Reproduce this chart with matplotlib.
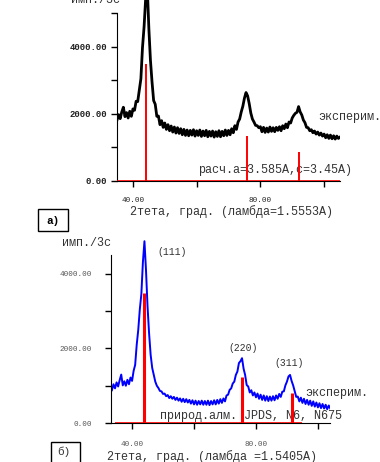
import numpy as np
import matplotlib.pyplot as plt
from matplotlib.patches import Rectangle

plt.rcParams['font.family'] = ['Liberation Mono', 'DejaVu Sans Mono']

# ---------------- panel a) : experiment (black) + calculated sticks (red)
tth_a_start, tth_a_step = 35.0, 0.5
counts_a = [
    1820, 1980, 1860, 2060, 2200, 1920, 2040, 1880, 2080, 1930,
    2150, 2110, 2380, 2370, 2720, 3050, 3980, 4600, 5450, 5800,
    4550, 3600, 2950, 2400, 2290, 1930, 1940, 1680, 1800, 1600,
    1730, 1540, 1680, 1500, 1640, 1460, 1610, 1430, 1590, 1420,
    1560, 1380, 1540, 1360, 1520, 1350, 1510, 1370, 1530, 1340,
    1500, 1360, 1520, 1330, 1490, 1350, 1510, 1320, 1480, 1340,
    1490, 1310, 1470, 1330, 1500, 1320, 1480, 1350, 1520, 1360,
    1510, 1380, 1560, 1440, 1650, 1540, 1760, 1850, 2060, 2230,
    2470, 2640, 2540, 2310, 2030, 1850, 1760, 1660, 1650, 1590,
    1620, 1470, 1600, 1450, 1580, 1460, 1610, 1480, 1590, 1470,
    1600, 1510, 1620, 1500, 1650, 1560, 1700, 1590, 1760, 1730,
    1880, 1960, 2020, 2050, 2220, 2060, 1970, 1820, 1740, 1600,
    1590, 1500, 1530, 1440, 1490, 1400, 1460, 1370, 1430, 1340,
    1400, 1290, 1380, 1270, 1370, 1260, 1350, 1250, 1340, 1270,
    1310,
]
calc_pos_a = [44.1, 75.8, 92.1]
calc_int_a = [3490, 1340, 870]

# ---------------- panel b) : experiment (blue) + JPDS sticks (red)
tth_b_start, tth_b_step = 33.5, 0.5
counts_b = [
    880, 1040, 930, 1090, 980, 1150, 1300, 1010, 1120, 1000,
    1160, 1040, 1220, 1130, 1400, 1560, 2100, 2500, 3050, 3460,
    4320, 4880, 4100, 3120, 2400, 1830, 1480, 1300, 1110, 1000,
    940, 860, 850, 780, 790, 720, 750, 670, 720, 650,
    700, 620, 680, 600, 660, 570, 650, 560, 640, 550,
    620, 520, 610, 500, 600, 490, 590, 500, 600, 490,
    590, 490, 600, 480, 590, 500, 610, 500, 620, 520,
    640, 540, 660, 580, 740, 760, 890, 930, 1060, 1110,
    1290, 1380, 1610, 1660, 1740, 1460, 1290, 1020, 980, 820,
    880, 740, 820, 690, 790, 650, 760, 620, 740, 600,
    720, 590, 710, 600, 720, 610, 740, 650, 780, 700,
    840, 850, 1010, 1110, 1250, 1290, 1130, 1010, 850, 700,
    710, 580, 680, 540, 650, 510, 620, 490, 600, 460,
    580, 440, 550, 420, 530, 400, 510, 390, 490, 370,
    470, 390,
]
ref_pos_b = [43.7, 75.4, 91.7]
ref_int_b = [3500, 1240, 800]
hkl_b = ['(111)', '(220)', '(311)']
hkl_xy_b = [(48.1, 4590), (71.0, 2010), (85.8, 1610)]

W, H = 380, 462


def fx(px):
    return px / W


def fy(py):
    return 1 - py / H


def style_axes(ax, ytop, ylab_fs, xlab_fs, ypad, xpad, lab_color):
    for s in ['top', 'right']:
        ax.spines[s].set_visible(False)
    ax.spines['left'].set_bounds(0, ytop)
    ax.set_xticks([40, 60, 80, 100])
    ax.set_xticklabels(['40.00', '', '80.00', ''])
    ax.set_yticks([0, 2000, 4000])
    ax.set_yticklabels(['%.2f' % v for v in [0, 2000, 4000]])
    ax.set_yticks([v for v in [1000, 3000, 5000] if v <= ytop], minor=True)
    ax.tick_params(axis='y', which='both', length=4, width=1, direction='out')
    ax.tick_params(axis='y', which='major', labelsize=ylab_fs, pad=ypad,
                   labelcolor=lab_color)
    ax.tick_params(axis='x', length=4, width=1, direction='out',
                   labelsize=xlab_fs, pad=xpad, labelcolor=lab_color)
    ax.patch.set_alpha(0)


fig = plt.figure(figsize=(3.8, 4.62), dpi=100)

# ---- a)
tth_a = tth_a_start + tth_a_step * np.arange(len(counts_a))
axa = fig.add_axes([fx(117), fy(181), (340 - 117) / W, 181 / H])
axa.plot(tth_a, counts_a, color='black', lw=2.0, zorder=2)
axa.hlines(0, 35, 105, color='red', lw=1.2, zorder=3)
axa.vlines(calc_pos_a, 0, calc_int_a, color='red', lw=1.4, zorder=4)
axa.set_xlim(35, 105)
axa.set_ylim(0, 5400)
style_axes(axa, 5000, 6.5, 5.5, 3, 7.5, '#222222')
for lab in axa.get_yticklabels():
    lab.set_fontweight('bold')
axa.text(98.1, 1910, 'эксперим.', fontsize=8.5, color='#333333',
         va='center', clip_on=False)
axa.text(60.4, 330, 'расч.а=3.585А,с=3.45А)', fontsize=8.5,
         color='#333333', va='center', clip_on=False)
fig.text(fx(71), fy(0), 'имп./3с', fontsize=8.5, color='#333333', va='center')
fig.text(fx(232), fy(212), '2тета, град. (ламбда=1.5553А)', fontsize=8.5,
         color='#333333', ha='center', va='center')
fig.patches.append(Rectangle((fx(38), fy(231)), 30 / W, 22 / H,
                             transform=fig.transFigure, fill=False,
                             edgecolor='black', lw=1))
fig.text(fx(46), fy(221), 'а)', fontsize=8, fontweight='bold', va='center')

# ---- b)
tth_b = tth_b_start + tth_b_step * np.arange(len(counts_b))
axb = fig.add_axes([fx(111), fy(423), 219 / W, 187 / H])
axb.plot(tth_b, counts_b, color='#0000ff', lw=1.4, zorder=2)
axb.hlines(0, 34.5, 94.8, color='red', lw=1.2, zorder=3)
axb.vlines(ref_pos_b, 0, ref_int_b, color='red', lw=2.2, zorder=4)
axb.set_xlim(33.2, 103.9)
axb.set_ylim(0, 5020)
style_axes(axb, 4500, 5.5, 5.5, 10, 9, '#555555')
for txt, (x, y) in zip(hkl_b, hkl_xy_b):
    axb.text(x, y, txt, fontsize=7, color='#333333', va='center')
axb.text(95.8, 805, 'эксперим.', fontsize=8.5, color='#333333',
         va='center', clip_on=False)
axb.text(49.0, 190, 'природ.алм. JPDS, N6, N675', fontsize=8.5,
         color='#333333', va='center', clip_on=False)
fig.text(fx(62), fy(243), 'имп./3с', fontsize=8.5, color='#333333', va='center')
fig.text(fx(212), fy(457), '2тета, град. (ламбда =1.5405А)', fontsize=8.5,
         color='#333333', ha='center', va='center')
fig.patches.append(Rectangle((fx(51), fy(463)), 29 / W, 21 / H,
                             transform=fig.transFigure, fill=False,
                             edgecolor='black', lw=1))
fig.text(fx(57), fy(452), 'б)', fontsize=8, va='center', color='#333333')

fig.savefig('out.png', dpi=100)
